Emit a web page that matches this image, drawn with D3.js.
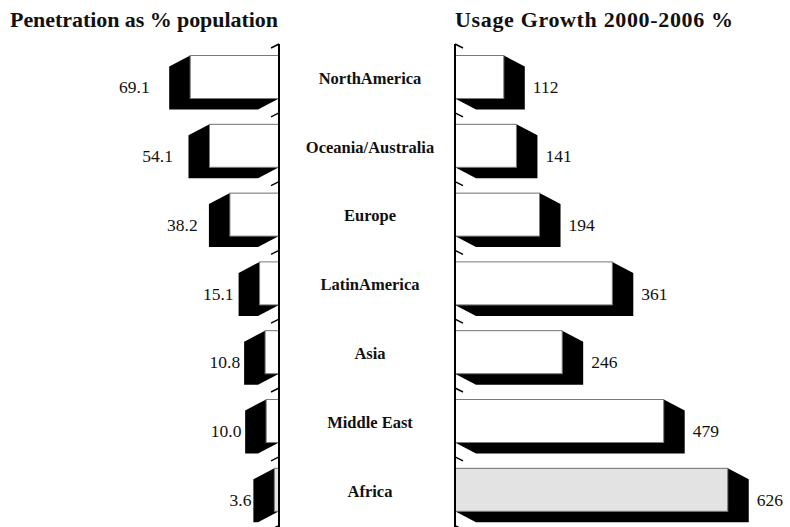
<!DOCTYPE html>
<html>
<head>
<meta charset="utf-8">
<script src="https://cdn.jsdelivr.net/npm/d3@7"></script>
<style>
  html, body { margin: 0; padding: 0; background: #fff; }
  svg { display: block; }
  .title { font-family: "Liberation Serif", "Times New Roman", serif; font-weight: bold; font-size: 22px; fill: #111; }
  .cat { font-family: "Liberation Serif", "Times New Roman", serif; font-weight: bold; font-size: 16.5px; fill: #111; }
  .val { font-family: "Liberation Serif", "Times New Roman", serif; font-size: 17.5px; fill: #111; }
</style>
</head>
<body>
<script>
// Internet statistics by world region
const categories = ["NorthAmerica", "Oceania/Australia", "Europe", "LatinAmerica", "Asia", "Middle East", "Africa"];
const penetration = [69.1, 54.1, 38.2, 15.1, 10.8, 10.0, 3.6];   // % of population
const growth = [112, 141, 194, 361, 246, 479, 626];             // usage growth 2000-2006 %
const highlighted = ["Africa"];
const titles = ["Penetration as % population", "Usage Growth 2000-2006 %"];

const W = 790, H = 527;
const svg = d3.select("body").append("svg").attr("width", W).attr("height", H);

// Shared category bands
const y = d3.scaleBand().domain(categories).range([44, 44 + 7 * 68.8]);
const barTop = c => y(c) + 11.5;
const barH = 43;
const depth = { dx: 21, dy: 11 };

// Left panel grows leftwards from its axis, right panel rightwards
const xL = d3.scaleLinear().domain([0, 80]).range([279, 279 - 80 * 1.285]);
const xLabL = d3.scaleLinear().domain([0, 80]).range([257, 257 - 80 * 1.553]);
const xR = d3.scaleLinear().domain([0, 700]).range([455, 455 + 305]);

const frontFill = c => highlighted.includes(c) ? "#e3e3e3" : "#ffffff";

// Titles
svg.append("text").attr("class", "title").attr("x", 10).attr("y", 27)
  .attr("textLength", 268).attr("lengthAdjust", "spacing").text(titles[0]);
svg.append("text").attr("class", "title").attr("x", 455).attr("y", 27)
  .attr("textLength", 278).attr("lengthAdjust", "spacing").text(titles[1]);

// ---- Left panel: penetration ----
const left = svg.append("g");
const leftData = categories.map((c, i) => ({ c, v: penetration[i] }));

left.selectAll("path.body").data(leftData).join("path")
  .attr("fill", "#000")
  .attr("d", d => {
    const x0 = xL(0), x1 = xL(d.v), t = barTop(d.c), b = t + barH;
    return d3.line()([
      [x1, t], [x0, t], [x0, b],
      [x0 - depth.dx, b + depth.dy], [x1 - depth.dx, b + depth.dy], [x1 - depth.dx, t + depth.dy]
    ]) + "Z";
  });

left.selectAll("rect.front").data(leftData).join("rect")
  .attr("x", d => xL(d.v)).attr("y", d => barTop(d.c))
  .attr("width", d => xL(0) - xL(d.v)).attr("height", barH)
  .attr("fill", d => frontFill(d.c)).attr("stroke", "#7a7a7a").attr("stroke-width", 1);

left.selectAll("text.val").data(leftData).join("text")
  .attr("class", "val").attr("text-anchor", "end")
  .attr("x", d => xLabL(d.v)).attr("y", d => barTop(d.c) + 31.5)
  .attr("dy", "0.35em").text(d => d3.format(".1f")(d.v));

// ---- Right panel: growth ----
const right = svg.append("g");
const rightData = categories.map((c, i) => ({ c, v: growth[i] }));

right.selectAll("path.body").data(rightData).join("path")
  .attr("fill", "#000")
  .attr("d", d => {
    const x0 = xR(0), x1 = xR(d.v), t = barTop(d.c), b = t + barH;
    return d3.line()([
      [x0, t], [x1, t], [x1 + depth.dx, t + depth.dy],
      [x1 + depth.dx, b + depth.dy], [x0 + depth.dx, b + depth.dy], [x0, b]
    ]) + "Z";
  });

right.selectAll("rect.front").data(rightData).join("rect")
  .attr("x", xR(0)).attr("y", d => barTop(d.c))
  .attr("width", d => xR(d.v) - xR(0)).attr("height", barH)
  .attr("fill", d => frontFill(d.c)).attr("stroke", "#7a7a7a").attr("stroke-width", 1);

right.selectAll("text.val").data(rightData).join("text")
  .attr("class", "val")
  .attr("x", d => xR(d.v) + depth.dx + 8).attr("y", d => barTop(d.c) + 31.5)
  .attr("dy", "0.35em").text(d => d3.format("d")(d.v));

// ---- Axes with slanted depth ticks ----
const bounds = categories.map(c => y(c)).concat([y.range()[1]]);
function drawAxis(g, x0, dir) {
  g.append("line").attr("x1", x0).attr("x2", x0)
    .attr("y1", y.range()[0]).attr("y2", H)
    .attr("stroke", "#000").attr("stroke-width", 2);
  g.selectAll("line.tick").data(bounds).join("line")
    .attr("x1", x0).attr("y1", d => d)
    .attr("x2", x0 + dir * 8).attr("y2", d => d + 4)
    .attr("stroke", "#000").attr("stroke-width", 1.5);
}
drawAxis(left.append("g"), xL(0), -1);
drawAxis(right.append("g"), xR(0), 1);

// Category names between the panels
svg.append("g").selectAll("text").data(categories).join("text")
  .attr("class", "cat").attr("text-anchor", "middle")
  .attr("x", 370).attr("y", c => barTop(c) + 22.5).attr("dy", "0.35em")
  .text(c => c);
</script>
</body>
</html>
